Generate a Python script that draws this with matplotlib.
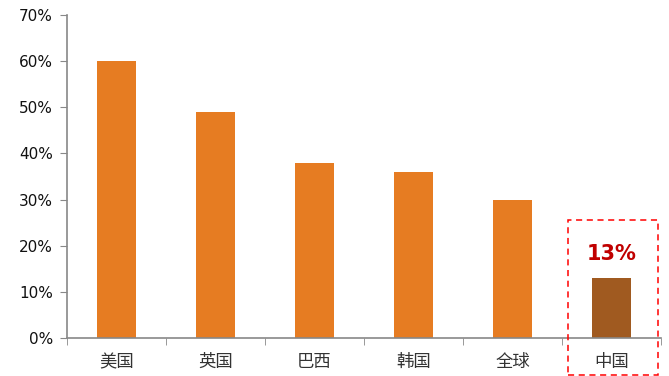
import matplotlib
matplotlib.use("Agg")
import matplotlib.pyplot as plt
from matplotlib.patches import Rectangle
from matplotlib.ticker import FuncFormatter, MultipleLocator

plt.rcParams['font.family'] = ['DejaVu Sans', 'Noto Sans CJK SC']

categories = ["美国", "英国", "巴西", "韩国", "全球", "中国"]
values = [60, 49, 38, 36, 30, 13]
colors = ["#E67C22"] * 5 + ["#A05A20"]

fig = plt.figure(figsize=(6.69, 3.76), dpi=100)
ax = fig.add_axes([0.1001, 0.101, 0.8879, 0.859])

x = list(range(len(categories)))
ax.bar(x, values, width=0.4, color=colors, edgecolor="none", zorder=2)

ax.set_xlim(-0.5, len(categories) - 0.5)
ax.set_ylim(0, 70)
ax.yaxis.set_major_locator(MultipleLocator(10))
ax.yaxis.set_major_formatter(FuncFormatter(lambda v, p: f"{v:.0f}%"))
ax.set_xticks(x)
ax.set_xticklabels(categories, fontfamily=['Noto Sans CJK SC', 'DejaVu Sans'], fontsize=12.5, color="#333333")
ax.tick_params(axis='x', length=0, pad=11)
# boundary ticks
ax.set_xticks([i - 0.5 for i in range(len(categories) + 1)], minor=True)
ax.tick_params(axis='x', which='minor', length=5, color="#888888", direction='out')
ax.tick_params(axis='y', length=5, color="#888888", labelsize=11, labelcolor="#111111", pad=5)

for s in ["top", "right"]:
    ax.spines[s].set_visible(False)
for s in ["left", "bottom"]:
    ax.spines[s].set_color("#888888")
    ax.spines[s].set_linewidth(1.2)

# highlight label
ax.text(x[-1], values[-1] + 3.0, f"{values[-1]}%", ha="center", va="bottom",
        color="#C00000", fontsize=15, fontweight="bold")

# dashed highlight box (in figure pixel coords converted to figure fraction)
rect = Rectangle((568 / 669, 1 / 376), 90 / 669, (376 - 220 - 1) / 376,
                 transform=fig.transFigure, fill=False, edgecolor="#FF0000",
                 linestyle=(0, (4, 3)), linewidth=1.1, clip_on=False)
fig.patches.append(rect)

fig.savefig("out.png", dpi=100)
